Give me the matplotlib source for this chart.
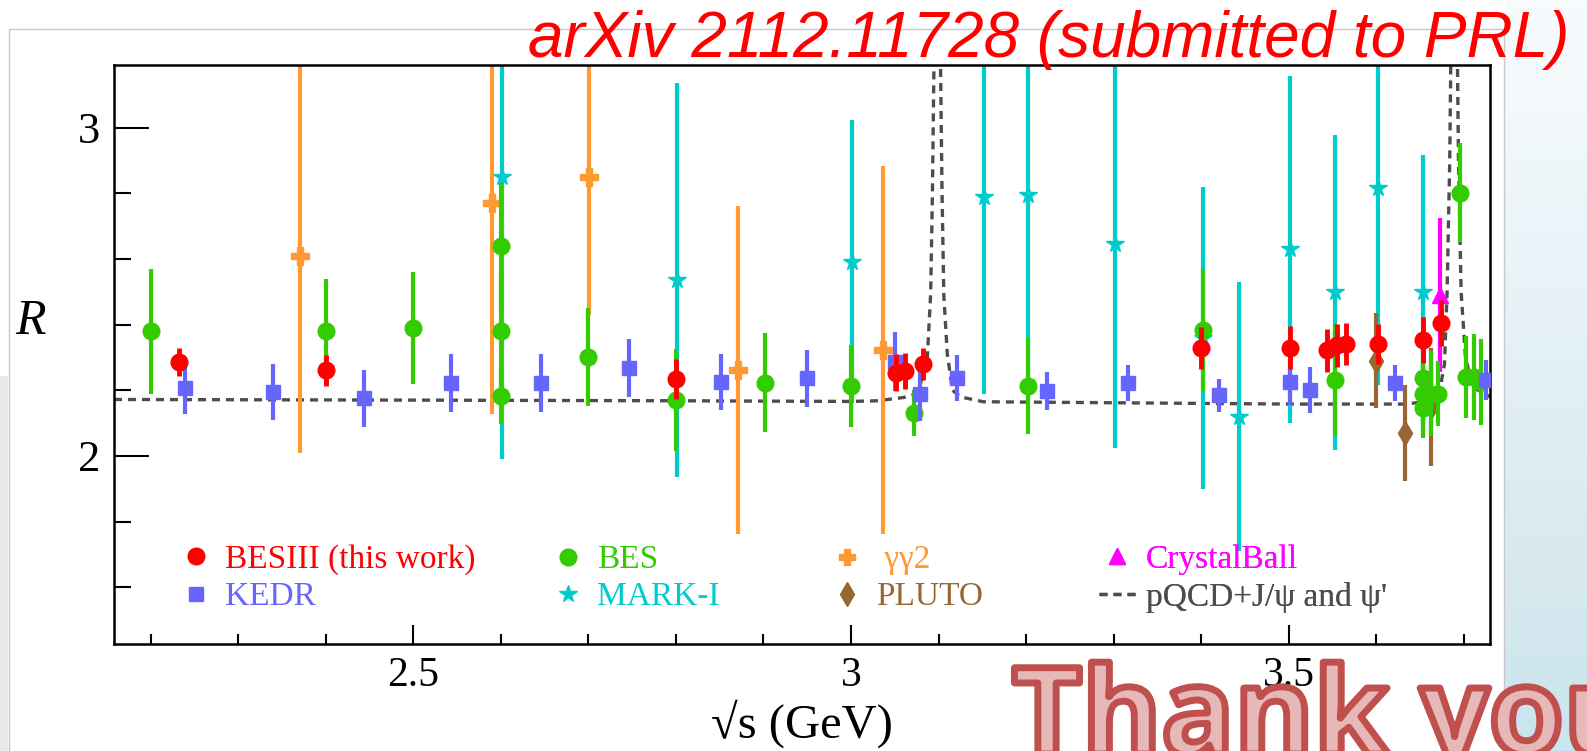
import matplotlib
matplotlib.use("Agg")
import matplotlib.pyplot as plt
import matplotlib.patheffects as pe
import numpy as np
from matplotlib.lines import Line2D
from matplotlib.patches import Rectangle

plt.rcParams['font.family'] = ['Liberation Serif', 'DejaVu Serif']
plt.rcParams['mathtext.fontset'] = 'stix'

# ---- data (sqrt(s) in GeV, R, error) ----
besiii_x = [2.232, 2.400, 2.800, 3.051, 3.062, 3.082, 3.400, 3.502, 3.544, 3.555, 3.565, 3.602, 3.653, 3.674]
besiii_y = [2.287, 2.261, 2.234, 2.254, 2.258, 2.280, 2.330, 2.330, 2.322, 2.337, 2.341, 2.341, 2.353, 2.405]
besiii_e = [0.042, 0.047, 0.060, 0.055, 0.055, 0.050, 0.064, 0.065, 0.065, 0.065, 0.065, 0.060, 0.070, 0.070]

bes_x = [2.200, 2.400, 2.500, 2.600, 2.600, 2.600, 2.700, 2.800, 2.902, 3.000, 3.072, 3.202,
         3.402, 3.553, 3.653, 3.653, 3.653, 3.663, 3.671, 3.696, 3.703, 3.712, 3.720]
bes_y = [2.380, 2.380, 2.390, 2.641, 2.381, 2.182, 2.302, 2.170, 2.223, 2.213, 2.131, 2.213,
         2.383, 2.231, 2.236, 2.190, 2.145, 2.190, 2.190, 2.802, 2.240, 2.240, 2.225]
bes_e = [0.190, 0.160, 0.170, 0.190, 0.170, 0.086, 0.150, 0.155, 0.150, 0.125, 0.070, 0.145,
         0.185, 0.170, 0.130, 0.100, 0.090, 0.130, 0.100, 0.150, 0.125, 0.130, 0.130]

kedr_x = [2.239, 2.340, 2.444, 2.543, 2.646, 2.746, 2.851, 2.950, 3.050, 3.079, 3.121, 3.224,
          3.317, 3.420, 3.502, 3.524, 3.621, 3.726]
kedr_y = [2.208, 2.195, 2.175, 2.223, 2.221, 2.269, 2.226, 2.236, 2.287, 2.190, 2.236, 2.197,
          2.221, 2.185, 2.226, 2.202, 2.221, 2.231]
kedr_e = [0.080, 0.085, 0.088, 0.088, 0.088, 0.088, 0.085, 0.086, 0.090, 0.085, 0.070, 0.058,
          0.055, 0.050, 0.070, 0.070, 0.055, 0.060]

markI_x = [2.601, 2.801, 3.001, 3.152, 3.202, 3.302, 3.402, 3.443, 3.502, 3.553, 3.602, 3.653]
markI_y = [2.851, 2.536, 2.592, 2.788, 2.795, 2.645, 2.360, 2.119, 2.629, 2.498, 2.815, 2.498]
markI_e = [0.860, 0.600, 0.430, 0.600, 0.600, 0.620, 0.460, 0.410, 0.530, 0.480, 0.600, 0.420]

gg2_x = [2.370, 2.590, 2.701, 2.871, 3.036]
gg2_y = [2.609, 2.771, 2.849, 2.261, 2.322]
gg2_e = [0.600, 0.644, 0.420, 0.500, 0.560]

pluto_x = [3.600, 3.633, 3.663]
pluto_y = [2.290, 2.070, 2.150]
pluto_e = [0.145, 0.147, 0.180]

cball_x = [3.673]
cball_y = [2.490]
cball_e = [0.235]

# pQCD + J/psi and psi' curve (read point by point)
pqcd_x = [2.158, 2.5, 2.8, 3.0, 3.03, 3.06, 3.076, 3.087, 3.091, 3.093, 3.095, 3.097, 3.100,
          3.102, 3.104, 3.106, 3.110, 3.116, 3.125, 3.151, 3.3, 3.5, 3.63, 3.66, 3.672, 3.678,
          3.681, 3.684, 3.686, 3.690, 3.692, 3.694, 3.697, 3.702, 3.71, 3.73]
pqcd_y = [2.172, 2.170, 2.168, 2.166, 2.168, 2.178, 2.19, 2.29, 2.495, 2.80, 3.25, 3.6, 3.6,
          3.25, 2.8, 2.49, 2.31, 2.20, 2.18, 2.165, 2.162, 2.158, 2.158, 2.165, 2.19, 2.28,
          2.5, 2.9, 3.4, 3.6, 3.4, 2.9, 2.5, 2.3, 2.21, 2.18]

c_red = '#ff0000'
c_green = '#33cc00'
c_blue = '#6666ff'
c_cyan = '#00cccc'
c_orange = '#ff9933'
c_brown = '#996633'
c_mag = '#ff00ff'
c_dash = '#4d4d4d'
dash = (0, (2.4, 1.8))

fig = plt.figure(figsize=(15.87, 7.51), dpi=100)

# slide background bits (pixel coords)
bg = fig.add_axes([0, 0, 1, 1], zorder=-10)
bg.set_xlim(0, 1587)
bg.set_ylim(751, 0)
bg.axis('off')
grad = np.linspace(0, 1, 200)[:, None]
cmap = matplotlib.colors.LinearSegmentedColormap.from_list(
    'sky', ['#f8fbfd', '#eef6fa', '#e2f0f6', '#d9e9ee', '#c9e5ef'])
bg.imshow(grad, cmap=cmap, aspect='auto', extent=[1505, 1587, 751, 0])
bg.add_patch(Rectangle((9, 29), 1495, 740, fill=False, ec='#c8c8c8', lw=1))
bg.add_patch(Rectangle((0, 376), 8, 375, color='#e6e8eb', lw=0))

ax = fig.add_axes([114 / 1587, 1 - 644 / 751, 1376 / 1587, 579 / 751])

ax.plot(pqcd_x, pqcd_y, linestyle=dash, color=c_dash, lw=2.4, zorder=1.5)

ax.errorbar(markI_x, markI_y, yerr=markI_e, fmt='*', color=c_cyan, ms=13, elinewidth=3, capsize=0, zorder=2)
ax.errorbar(gg2_x, gg2_y, yerr=gg2_e, fmt='P', color=c_orange, ms=13, elinewidth=3, capsize=0, zorder=2.5)
ax.errorbar(cball_x, cball_y, yerr=cball_e, fmt='^', color=c_mag, ms=12, elinewidth=3, capsize=0, zorder=3)
ax.errorbar(pluto_x, pluto_y, yerr=pluto_e, fmt='d', color=c_brown, ms=12, elinewidth=3, capsize=0, zorder=3.5)
ax.errorbar(bes_x, bes_y, yerr=bes_e, fmt='o', color=c_green, ms=12, elinewidth=3, capsize=0, zorder=4)
ax.errorbar(kedr_x, kedr_y, yerr=kedr_e, fmt='s', color=c_blue, ms=10.5, elinewidth=3, capsize=0, zorder=5)
ax.errorbar(besiii_x, besiii_y, yerr=besiii_e, fmt='o', color=c_red, ms=12, elinewidth=3.5, capsize=0, zorder=6)

ax.set_xlim(2.158, 3.73)
ax.set_ylim(1.427, 3.191)
ax.set_xticks([2.5, 3.0, 3.5])
ax.set_xticklabels(['2.5', '3', '3.5'])
ax.set_xticks(np.arange(2.2, 3.75, 0.1), minor=True)
ax.set_yticks([2, 3])
ax.set_yticklabels(['2', '3'])
ax.set_yticks(np.arange(1.6, 3.1, 0.2), minor=True)
ax.tick_params(which='both', direction='in', width=1.5, labelsize=30, top=False, right=False)
ax.tick_params(axis='x', which='major', length=14, pad=9)
ax.tick_params(axis='x', which='minor', length=7)
ax.tick_params(axis='y', which='major', length=25, pad=10, labelsize=32)
ax.tick_params(axis='y', which='minor', length=12)
for s in ax.spines.values():
    s.set_linewidth(1.8)

ax.set_xlabel('√s (GeV)', fontsize=35, va='top')
ax.xaxis.set_label_coords(0.5, -0.095)
ax.set_ylabel('R', fontsize=36, style='italic', rotation=0, ha='center', va='center')
ax.yaxis.set_label_coords(-0.061, 0.556)

# legend: four columns placed like the original
cols = [
    [(Line2D([], [], marker='o', ls='None', color=c_red, ms=12), 'BESIII (this work)', c_red),
     (Line2D([], [], marker='s', ls='None', color=c_blue, ms=10.5), 'KEDR', c_blue)],
    [(Line2D([], [], marker='o', ls='None', color=c_green, ms=12), 'BES', c_green),
     (Line2D([], [], marker='*', ls='None', color=c_cyan, ms=13), 'MARK-I', c_cyan)],
    [(Line2D([], [], marker='P', ls='None', color=c_orange, ms=12), ' γγ2', c_orange),
     (Line2D([], [], marker='d', ls='None', color=c_brown, ms=12), 'PLUTO', c_brown)],
    [(Line2D([], [], marker='^', ls='None', color=c_mag, ms=12), 'CrystalBall', c_mag),
     (Line2D([], [], ls=dash, color=c_dash, lw=2.4), "pQCD+J/ψ and ψ'", c_dash)],
]
col_x = [178 / 1587, 550 / 1587, 829 / 1587, 1099 / 1587]
for cx, col in zip(col_x, cols):
    leg = ax.legend([h for h, _, _ in col], [t for _, t, _ in col], loc='center left',
                    bbox_to_anchor=(cx, 1 - 578.5 / 751), bbox_transform=fig.transFigure,
                    frameon=False, fontsize=24, handlelength=1.1, handletextpad=0.3,
                    borderpad=0, borderaxespad=0, labelspacing=0.2)
    for txt, (_, _, c) in zip(leg.get_texts(), col):
        txt.set_color(c)
    ax.add_artist(leg)

# slide text
fig.text(1569 / 1587, 1 - 57.5 / 751, 'arXiv 2112.11728 (submitted to PRL)', color='#ff0000',
         fontsize=46, style='italic', family=['Liberation Sans', 'DejaVu Sans'], ha='right', va='baseline')
fig.text(1012 / 1587, -0.004, 'Thank you', color='#e6b9b8', fontsize=87, fontweight='bold',
         family=['Open Sans', 'DejaVu Sans'], ha='left', va='baseline',
         path_effects=[pe.Stroke(linewidth=5, foreground='#c0504d')])

fig.savefig('out.png', dpi=100)
